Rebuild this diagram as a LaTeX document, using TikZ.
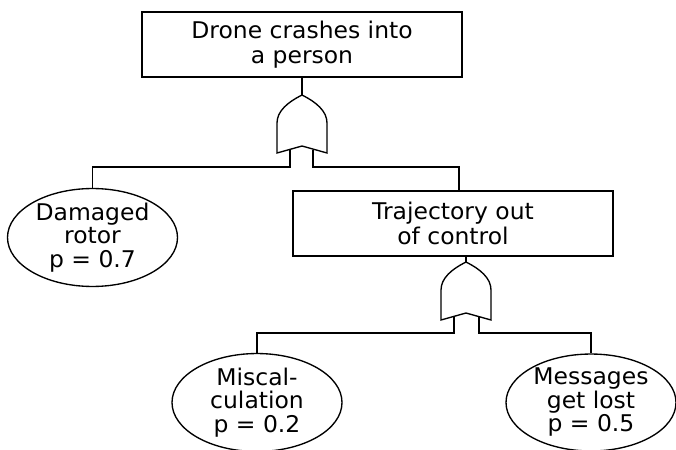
\documentclass[tikz,border=0pt]{standalone}
\usepackage{fontspec}
\setmainfont[FakeStretch=1.02]{DejaVu Sans}
\usetikzlibrary{shapes.geometric,calc}
\begin{document}
\begin{tikzpicture}[x=1pt,y=-1pt,line width=1.35pt,
  event/.style={draw,rectangle,minimum width=320pt,minimum height=65pt,inner sep=0pt,
    align=center,font=\fontsize{23}{25.5}\selectfont},
  basic/.style={draw,ellipse,minimum width=170pt,minimum height=93pt,inner sep=0pt,
    align=center,font=\fontsize{23}{23.5}\selectfont},
  orgate/.pic={\draw[line join=miter] (0,0) .. controls (-14,7) and (-25,16) .. (-25,28)
    -- (-25,58) -- (0,51) -- (25,58) -- (25,28)
    .. controls (25,16) and (14,7) .. (0,0) -- cycle;}]
\useasboundingbox (0,0) rectangle (676,449);

% events and basic events
\node[event] (top)  at (302,44.5)  {Drone crashes into\\a person};
\node[event] (traj) at (453,223.5) {Trajectory out\\ of control};
\node[basic] (rotor) at (92.5,237.5) {Damaged\\rotor\\p = 0.7};
\node[basic] (misc)  at (257,402.5)  {Miscal-\\culation\\p = 0.2};
\node[basic] (msg)   at (591,402.5)  {Messages\\get lost\\p = 0.5};

% OR gates
\coordinate (g1) at (302,95);
\coordinate (g2) at (466,262);
\pic at (g1) {orgate};
\pic at (g2) {orgate};

% gate inputs and bus levels
\coordinate (g1l) at ($(g1)+(-12,54.4)$);
\coordinate (g1r) at ($(g1)+(11,54.9)$);
\coordinate (g2l) at ($(g2)+(-12,54.4)$);
\coordinate (g2r) at ($(g2)+(13,54.9)$);
\coordinate (bus1) at (0,167);
\coordinate (bus2) at (0,333);
\coordinate (trajin) at (459,191);

% connectors
\draw (top.south) -- (g1);
\draw (g1l) -- (g1l |- bus1) -| (rotor.north);
\draw (g1r) -- (g1r |- bus1) -| (trajin);
\draw (traj.south -| g2) -- (g2);
\draw (g2l) -- (g2l |- bus2) -| (misc.north);
\draw (g2r) -- (g2r |- bus2) -| (msg.north);
\end{tikzpicture}
\end{document}
